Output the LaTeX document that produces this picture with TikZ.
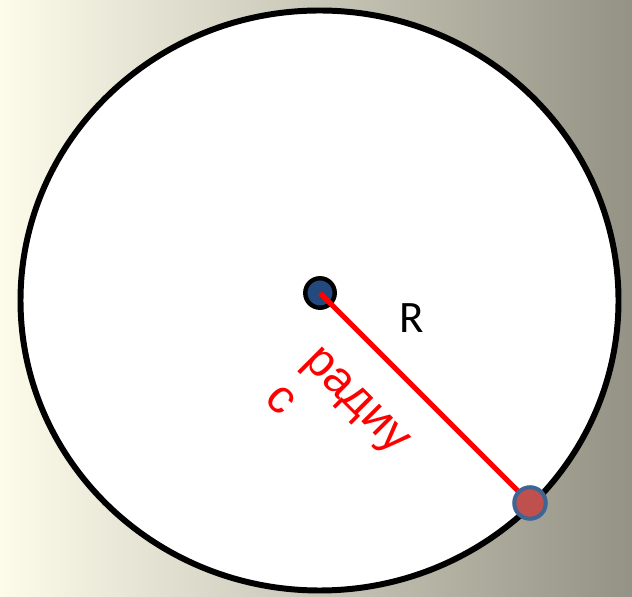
\documentclass[tikz,border=0pt]{standalone}
\usepackage{fontspec}
\setmainfont{Liberation Sans}
\newfontfamily\rfont{Carlito}
\usepackage{tikz}
\usetikzlibrary{positioning}
\definecolor{bgleft}{HTML}{FDFBEA}
\definecolor{bgmid}{HTML}{E6E4D2}
\definecolor{bgright}{HTML}{949284}
\definecolor{dotblue}{HTML}{234A7E}
\definecolor{rimred}{HTML}{C0504D}
\definecolor{rimblue}{HTML}{3D6596}

\begin{document}
\begin{tikzpicture}[
  x=0.02cm, y=-0.02cm,
  centredot/.style={circle, draw=black, fill=dotblue, line width=2.5pt, inner sep=0pt, minimum size=0.59cm},
  rimdot/.style={circle, draw=rimblue, fill=rimred, line width=2.3pt, inner sep=0pt, minimum size=0.63cm},
  radius line/.style={red, line width=2.9pt},
  redtext/.style={red, font=\fontsize{27pt}{31pt}\selectfont, align=left, inner sep=0pt}
]
\useasboundingbox (0,0) rectangle (632,597);
\fill[left color=bgleft, middle color=bgmid, right color=bgright] (0,0) rectangle (632,597);

% the circle
\draw[line width=3.4pt, fill=white] (319.5,300.5) ellipse [x radius=299, y radius=290];

\coordinate (c) at (320,293);
\coordinate (p) at (530,503);

\node[centredot] (centre) at (c) {};
\draw[radius line] (centre.center) -- (p);
\node[rimdot] (rim) at (p) {};

\node[font=\rfont\fontsize{25.6pt}{30pt}\selectfont, inner sep=0pt] (rlabel) at (412,318) {R};
\node[redtext, rotate=-45] (word) at (338,419) {радиу\\с};
\end{tikzpicture}
\end{document}
